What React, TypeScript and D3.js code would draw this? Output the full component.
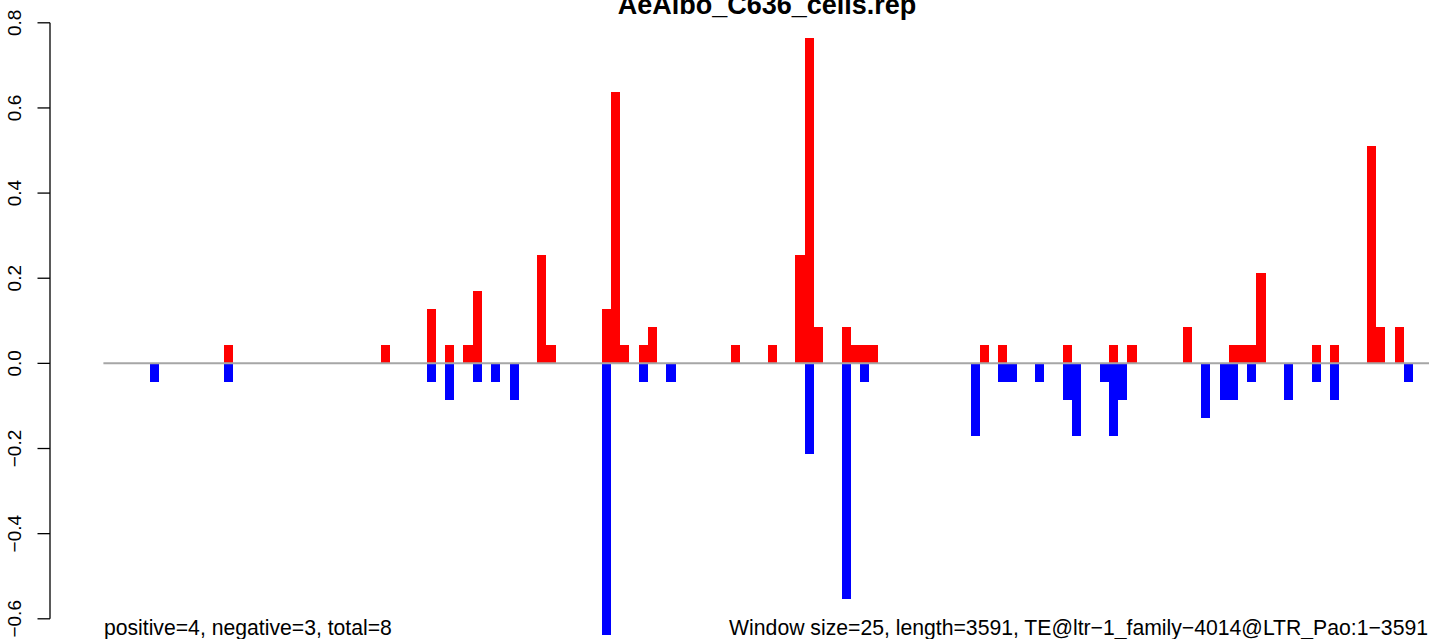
import React from "react";
import * as d3 from "d3";

const title = "AeAlbo_C636_cells.rep";
const leftNote = "positive=4, negative=3, total=8";
const rightNote = "Window size=25, length=3591, TE@ltr\u22121_family\u22124014@LTR_Pao:1\u22123591";
const windowCount = 144;
const yTicks = [-0.6, -0.4, -0.2, 0, 0.2, 0.4, 0.6, 0.8];

// positive (red) bars: window index and value
const posWindows = [13, 30, 35, 37, 39, 40, 47, 48, 54, 55, 56, 58, 59, 68, 72, 75, 76, 77, 80, 81, 82, 83, 95, 97, 104, 109, 111, 117, 122, 123, 124, 125, 131, 133, 137, 138, 140];
const posValues = [0.043, 0.043, 0.128, 0.043, 0.043, 0.17, 0.255, 0.043, 0.128, 0.638, 0.043, 0.043, 0.085, 0.043, 0.043, 0.255, 0.765, 0.085, 0.085, 0.043, 0.043, 0.043, 0.043, 0.043, 0.043, 0.043, 0.043, 0.085, 0.043, 0.043, 0.043, 0.213, 0.043, 0.043, 0.51, 0.085, 0.085];

// negative (blue) bars: window index and value
const negWindows = [5, 13, 35, 37, 40, 42, 44, 54, 58, 61, 76, 80, 82, 94, 97, 98, 101, 104, 105, 108, 109, 110, 119, 121, 122, 124, 128, 131, 133, 141];
const negValues = [-0.043, -0.043, -0.043, -0.085, -0.043, -0.043, -0.085, -0.638, -0.043, -0.043, -0.213, -0.553, -0.043, -0.17, -0.043, -0.043, -0.043, -0.085, -0.17, -0.043, -0.17, -0.085, -0.128, -0.085, -0.085, -0.043, -0.085, -0.043, -0.085, -0.043];

export default function App() {
  const W = 1429;
  const H = 639;
  const x = d3.scaleLinear().domain([0, windowCount]).range([103.9, 103.9 + windowCount * 9.22]);
  const y = d3.scaleLinear().domain([-0.6, 0.8]).range([618.8, 22.8]);
  const axisX = 50;
  const font = "Liberation Sans, Arial, Helvetica, sans-serif";

  const pos = posWindows.map((w, k) => ({ w, v: posValues[k] }));
  const neg = negWindows.map((w, k) => ({ w, v: negValues[k] }));

  return (
    <svg
      width={W}
      height={H}
      style={{ position: "absolute", left: 0, top: 0, background: "#fff" }}
      fontFamily={font}
    >
      <rect x={0} y={0} width={W} height={H} fill="#fff" />
      <g shapeRendering="crispEdges">
        {pos.map((d, k) => (
          <rect
            key={"p" + k}
            x={x(d.w)}
            width={x(d.w + 1) - x(d.w)}
            y={y(d.v)}
            height={y(0) - y(d.v)}
            fill="#ff0000"
          />
        ))}
        {neg.map((d, k) => (
          <rect
            key={"n" + k}
            x={x(d.w)}
            width={x(d.w + 1) - x(d.w)}
            y={y(0)}
            height={y(d.v) - y(0)}
            fill="#0000ff"
          />
        ))}
      </g>
      <line x1={x(0) - 0.5} x2={W} y1={y(0)} y2={y(0)} stroke="#a6a6a6" strokeWidth={2} />
      {/* y axis */}
      <line x1={axisX} x2={axisX} y1={y(0.8)} y2={y(-0.6)} stroke="#000" strokeWidth={1.3} />
      {yTicks.map((t) => (
        <g key={t}>
          <line x1={axisX - 12.5} x2={axisX} y1={y(t)} y2={y(t)} stroke="#000" strokeWidth={1.3} />
          <text
            transform={`translate(${21},${y(t)}) rotate(-90)`}
            textAnchor="middle"
            fontSize={19}
            fill="#000"
          >
            {d3.format(".1f")(t).replace("-", "\u2212")}
          </text>
        </g>
      ))}
      <text x={767} y={14} textAnchor="middle" fontSize={27} fontWeight="bold" fill="#000">
        {title}
      </text>
      <text x={x(0)} y={635} textAnchor="start" fontSize={21.2} fill="#000">
        {leftNote}
      </text>
      <text x={1428} y={635} textAnchor="end" fontSize={21.2} fill="#000">
        {rightNote}
      </text>
    </svg>
  );
}
